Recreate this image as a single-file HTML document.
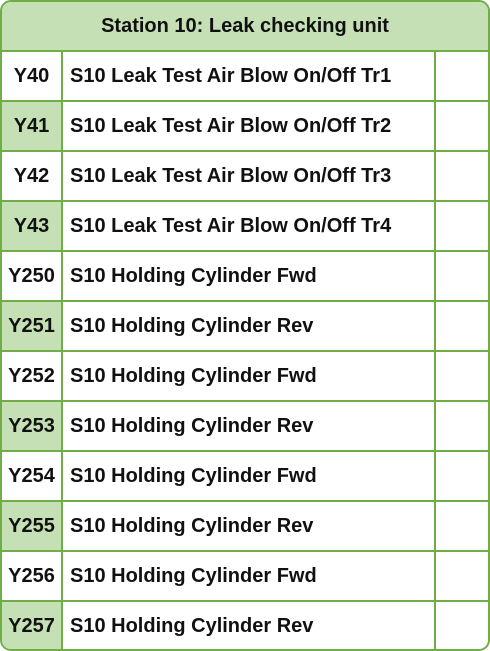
<!DOCTYPE html>
<html><head><meta charset="utf-8"><style>
html,body{margin:0;padding:0;background:#fff;}
body{width:490px;height:651px;position:relative;overflow:hidden;font-family:"Liberation Sans",sans-serif;font-weight:bold;color:#111;}
#tbl{position:absolute;left:0;top:0;width:486px;height:647px;border:2px solid #70ad47;border-radius:11px;overflow:hidden;}
.hdr{position:absolute;left:0;top:0;width:486px;height:48px;background:#c5e0b4;border-bottom:2px solid #70ad47;text-align:center;line-height:48px;font-size:20px;}
.row{position:absolute;left:0;width:486px;height:48px;border-bottom:2px solid #70ad47;}
.row:last-child{border-bottom:none;}
.c1{position:absolute;left:0;top:0;width:59px;height:48px;border-right:2px solid #70ad47;text-align:center;line-height:48px;font-size:20px;}
.c1.sh{background:#c5e0b4;}
.c2{position:absolute;left:61px;top:0;width:373px;height:48px;border-right:2px solid #70ad47;line-height:48px;font-size:20px;padding-left:7px;box-sizing:border-box;white-space:nowrap;}
.c3{position:absolute;left:436px;top:0;width:50px;height:48px;}
</style></head><body>
<div id="tbl">
<div class="hdr">Station 10: Leak checking unit</div>
<div class="row" style="top:50px"><div class="c1">Y40</div><div class="c2">S10 Leak Test Air Blow On/Off Tr1</div><div class="c3"></div></div>
<div class="row" style="top:100px"><div class="c1 sh">Y41</div><div class="c2">S10 Leak Test Air Blow On/Off Tr2</div><div class="c3"></div></div>
<div class="row" style="top:150px"><div class="c1">Y42</div><div class="c2">S10 Leak Test Air Blow On/Off Tr3</div><div class="c3"></div></div>
<div class="row" style="top:200px"><div class="c1 sh">Y43</div><div class="c2">S10 Leak Test Air Blow On/Off Tr4</div><div class="c3"></div></div>
<div class="row" style="top:250px"><div class="c1">Y250</div><div class="c2">S10 Holding Cylinder Fwd</div><div class="c3"></div></div>
<div class="row" style="top:300px"><div class="c1 sh">Y251</div><div class="c2">S10 Holding Cylinder Rev</div><div class="c3"></div></div>
<div class="row" style="top:350px"><div class="c1">Y252</div><div class="c2">S10 Holding Cylinder Fwd</div><div class="c3"></div></div>
<div class="row" style="top:400px"><div class="c1 sh">Y253</div><div class="c2">S10 Holding Cylinder Rev</div><div class="c3"></div></div>
<div class="row" style="top:450px"><div class="c1">Y254</div><div class="c2">S10 Holding Cylinder Fwd</div><div class="c3"></div></div>
<div class="row" style="top:500px"><div class="c1 sh">Y255</div><div class="c2">S10 Holding Cylinder Rev</div><div class="c3"></div></div>
<div class="row" style="top:550px"><div class="c1">Y256</div><div class="c2">S10 Holding Cylinder Fwd</div><div class="c3"></div></div>
<div class="row" style="top:600px"><div class="c1 sh">Y257</div><div class="c2">S10 Holding Cylinder Rev</div><div class="c3"></div></div>
</div>
</body></html>
